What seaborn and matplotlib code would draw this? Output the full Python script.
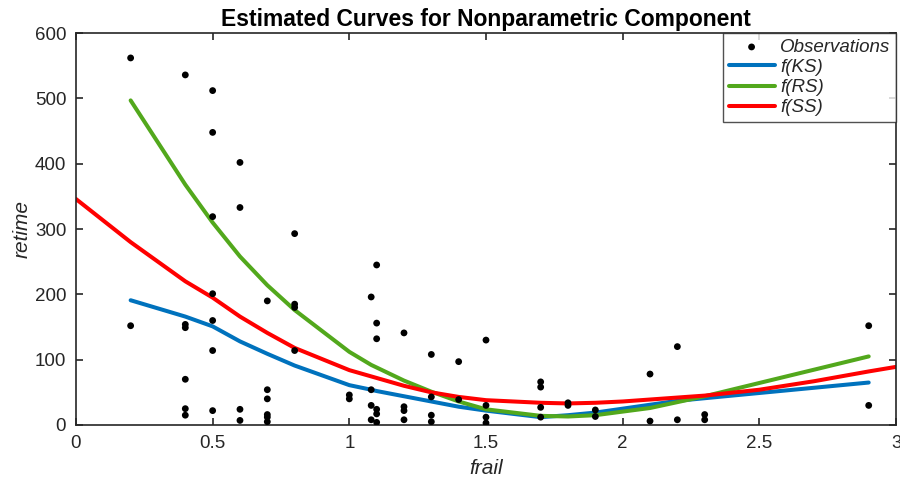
import matplotlib
matplotlib.use("Agg")
import matplotlib.pyplot as plt
import seaborn as sns
import pandas as pd

# Observed data
frail_obs = [0.2, 0.2,
             0.4, 0.4, 0.4, 0.4, 0.4, 0.4,
             0.5, 0.5, 0.5, 0.5, 0.5, 0.5, 0.5,
             0.6, 0.6, 0.6, 0.6,
             0.7, 0.7, 0.7, 0.7, 0.7, 0.7,
             0.8, 0.8, 0.8, 0.8,
             1.0, 1.0,
             1.08, 1.08, 1.08, 1.08,
             1.1, 1.1, 1.1, 1.1, 1.1, 1.1,
             1.2, 1.2, 1.2, 1.2,
             1.3, 1.3, 1.3, 1.3,
             1.4, 1.4,
             1.5, 1.5, 1.5, 1.5,
             1.7, 1.7, 1.7, 1.7,
             1.8, 1.8,
             1.9, 1.9,
             2.1, 2.1,
             2.2, 2.2,
             2.3, 2.3,
             2.9, 2.9]
retime_obs = [562, 152,
              536, 154, 149, 70, 25, 15,
              512, 448, 319, 201, 160, 114, 22,
              402, 333, 24, 7,
              190, 54, 40, 16, 12, 5,
              293, 185, 180, 114,
              46, 40,
              196, 54, 30, 8,
              245, 156, 132, 24, 17, 4,
              141, 28, 22, 8,
              108, 43, 15, 5,
              97, 39,
              130, 30, 12, 3,
              66, 58, 27, 12,
              34, 30,
              23, 13,
              78, 6,
              120, 8,
              16, 8,
              152, 30]

# Fitted curves at the distinct frail values
frail_fit = [0.2, 0.4, 0.5, 0.6, 0.7, 0.8, 1.0, 1.08, 1.1, 1.2, 1.3, 1.4,
             1.5, 1.7, 1.8, 1.9, 2.1, 2.2, 2.3, 2.9]
f_ks = [191, 166, 151, 128, 109, 91, 61, 54, 52, 44, 36, 28,
        22, 12, 15, 19, 31, 37, 41, 65]
f_rs = [497, 368, 310, 258, 214, 176, 112, 92, 88, 68, 51, 36,
        24, 14, 13, 15, 26, 35, 44, 105]

# Smoothing spline on a grid covering the whole axis
frail_grid = [0.0, 0.2, 0.4, 0.5, 0.6, 0.7, 0.8, 1.0, 1.1, 1.2, 1.3, 1.4,
              1.5, 1.7, 1.8, 1.9, 2.0, 2.1, 2.2, 2.3, 2.5, 2.7, 2.9, 3.0]
f_ss = [346, 280, 220, 195, 166, 141, 118, 84, 72, 60, 50, 43,
        38, 34, 33, 34, 36, 39, 42, 45, 54, 67, 82, 89]

obs = pd.DataFrame({"frail": frail_obs, "retime": retime_obs})
fit = pd.DataFrame({"frail": frail_fit, "KS": f_ks, "RS": f_rs})
ss = pd.DataFrame({"frail": frail_grid, "SS": f_ss})

sns.set_theme(style="white")
plt.rcParams["font.family"] = ["Liberation Sans", "DejaVu Sans"]
plt.rcParams["axes.edgecolor"] = "#262626"
plt.rcParams["axes.linewidth"] = 1.2

fig = plt.figure(figsize=(9, 4.8), dpi=100)
ax = fig.add_axes([0.0844, 0.1146, 0.9112, 0.8164])

sns.scatterplot(data=obs, x="frail", y="retime", ax=ax, color="black",
                s=24, edgecolor="none", label="Observations", zorder=3)
sns.lineplot(data=fit, x="frail", y="KS", ax=ax, color="#0072BD",
             linewidth=2.9, label="f(KS)", sort=False, estimator=None)
sns.lineplot(data=fit, x="frail", y="RS", ax=ax, color="#52A81C",
             linewidth=2.9, label="f(RS)", sort=False, estimator=None)
sns.lineplot(data=ss, x="frail", y="SS", ax=ax, color="#FF0000",
             linewidth=2.9, label="f(SS)", sort=False, estimator=None)

ax.set_xlim(0, 3)
ax.set_ylim(0, 600)
ax.set_xticks([0, 0.5, 1, 1.5, 2, 2.5, 3])
ax.set_xticklabels(["0", "0.5", "1", "1.5", "2", "2.5", "3"])
ax.set_yticks([0, 100, 200, 300, 400, 500, 600])
ax.tick_params(axis="both", which="both", direction="in", length=5, width=1.2,
               top=True, right=True, bottom=True, left=True,
               labelsize=13.5, colors="#262626", pad=7)
for lab in ax.get_xticklabels() + ax.get_yticklabels():
    lab.set_color("#262626")

ax.set_xlabel("frail", fontsize=15, fontstyle="italic", color="#262626", labelpad=5)
ax.set_ylabel("retime", fontsize=15, fontstyle="italic", color="#262626", labelpad=2)
ax.set_title("Estimated Curves for Nonparametric Component", fontsize=16.5,
             fontweight="bold", color="black", pad=5)

leg = ax.legend(loc="upper right", frameon=True, fancybox=False, fontsize=13.5,
                borderaxespad=0, handlelength=2.45, borderpad=0.3,
                labelspacing=0.16, handletextpad=0.3)
leg.get_frame().set_edgecolor("#262626")
leg.get_frame().set_linewidth(1.0)
for t in leg.get_texts():
    t.set_fontstyle("italic")

fig.savefig("out.png", dpi=100)
